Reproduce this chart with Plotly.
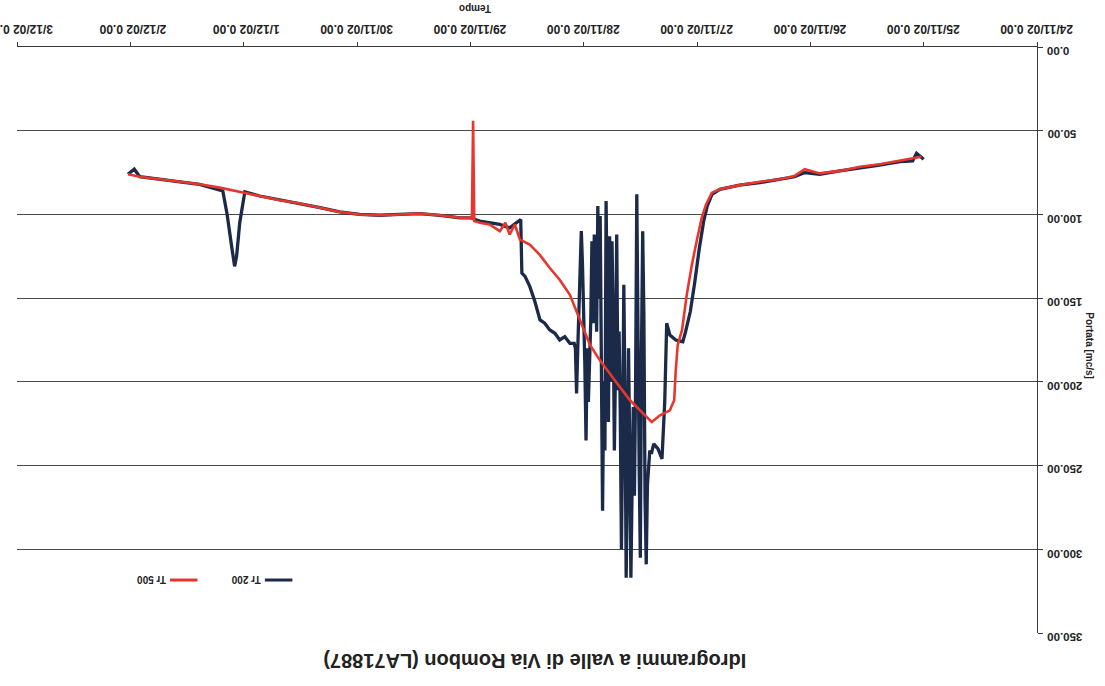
import plotly.graph_objects as go

# Tr 500 hydrograph (time, discharge in mc/s)
tr500_time = [
    "2002-11-25 00:30", "2002-11-25 05:00", "2002-11-25 09:20", "2002-11-25 13:30",
    "2002-11-25 17:45", "2002-11-25 22:00", "2002-11-26 01:10", "2002-11-26 03:20",
    "2002-11-26 06:30", "2002-11-26 10:40", "2002-11-26 15:00", "2002-11-26 19:10",
    "2002-11-26 20:50", "2002-11-26 22:05", "2002-11-26 23:00", "2002-11-27 00:00",
    "2002-11-27 01:05", "2002-11-27 02:10", "2002-11-27 03:10", "2002-11-27 04:05",
    "2002-11-27 04:30", "2002-11-27 04:50", "2002-11-27 05:45", "2002-11-27 07:50",
    "2002-11-27 09:35", "2002-11-27 11:00", "2002-11-27 14:10", "2002-11-27 17:25",
    "2002-11-27 20:35", "2002-11-27 22:40", "2002-11-28 00:50", "2002-11-28 02:55",
    "2002-11-28 05:05", "2002-11-28 07:10", "2002-11-28 09:20", "2002-11-28 11:25",
    "2002-11-28 13:30", "2002-11-28 14:35", "2002-11-28 15:40", "2002-11-28 16:35",
    "2002-11-28 17:45", "2002-11-28 19:55", "2002-11-28 22:00", "2002-11-28 23:10",
    "2002-11-28 23:25", "2002-11-28 23:40", "2002-11-29 00:00", "2002-11-29 02:10",
    "2002-11-29 06:25", "2002-11-29 10:45", "2002-11-29 15:00", "2002-11-29 19:10",
    "2002-11-29 23:25", "2002-11-30 03:40", "2002-11-30 07:50", "2002-11-30 12:05",
    "2002-11-30 16:20", "2002-11-30 20:35", "2002-12-01 00:50", "2002-12-01 05:05",
    "2002-12-01 09:20", "2002-12-01 13:30", "2002-12-01 17:45", "2002-12-01 22:00",
    "2002-12-02 00:30",
]
tr500_q = [
    65.5, 68.0, 70.0, 71.5,
    74.0, 75.5, 73.0, 77.0,
    79.0, 80.5, 82.5, 85.0,
    87.0, 94.0, 102.0, 115.0,
    130.0, 148.0, 169.0, 178.0,
    193.0, 211.0, 217.0, 220.0,
    224.0, 220.0, 211.0, 199.0,
    187.0, 178.0, 163.0, 148.0,
    139.0, 132.0, 124.0, 118.0,
    115.0, 106.0, 112.0, 105.0,
    110.0, 106.0, 105.0, 104.0,
    44.0, 103.0, 102.0, 102.0,
    100.5, 99.5, 100.0, 100.5,
    100.0, 98.5, 96.0, 93.5,
    91.5, 89.0, 86.5, 84.0,
    82.0, 80.5, 79.0, 77.5,
    76.0,
]

# Tr 200 hydrograph (time, discharge in mc/s)
tr200_time = [
    "2002-11-25 00:00", "2002-11-25 01:30", "2002-11-25 02:20", "2002-11-25 05:00",
    "2002-11-25 09:20", "2002-11-25 13:30", "2002-11-25 17:45", "2002-11-25 22:00",
    "2002-11-26 01:10", "2002-11-26 03:20", "2002-11-26 06:30", "2002-11-26 10:40",
    "2002-11-26 15:00", "2002-11-26 19:10", "2002-11-26 20:50", "2002-11-26 21:50",
    "2002-11-26 22:35", "2002-11-26 23:30", "2002-11-27 00:30", "2002-11-27 01:25",
    "2002-11-27 02:25", "2002-11-27 03:00", "2002-11-27 04:30", "2002-11-27 05:45",
    "2002-11-27 06:25", "2002-11-27 06:50", "2002-11-27 07:25", "2002-11-27 08:15",
    "2002-11-27 09:10", "2002-11-27 09:40",
    "2002-11-27 10:00", "2002-11-27 10:15", "2002-11-27 10:30", "2002-11-27 10:45",
    "2002-11-27 11:00", "2002-11-27 11:15", "2002-11-27 11:30", "2002-11-27 11:45",
    "2002-11-27 12:00", "2002-11-27 12:15", "2002-11-27 12:30", "2002-11-27 12:45",
    "2002-11-27 13:00", "2002-11-27 13:15", "2002-11-27 13:30", "2002-11-27 13:45",
    "2002-11-27 14:00", "2002-11-27 14:15", "2002-11-27 14:30", "2002-11-27 14:45",
    "2002-11-27 15:00", "2002-11-27 15:15", "2002-11-27 15:30", "2002-11-27 15:45",
    "2002-11-27 16:00", "2002-11-27 16:15", "2002-11-27 16:30", "2002-11-27 16:45",
    "2002-11-27 17:00", "2002-11-27 17:15", "2002-11-27 17:30", "2002-11-27 17:45",
    "2002-11-27 18:00", "2002-11-27 18:15", "2002-11-27 18:30", "2002-11-27 18:45",
    "2002-11-27 19:00", "2002-11-27 19:15", "2002-11-27 19:30", "2002-11-27 19:45",
    "2002-11-27 20:00", "2002-11-27 20:15", "2002-11-27 20:30", "2002-11-27 20:45",
    "2002-11-27 21:00", "2002-11-27 21:15", "2002-11-27 21:30", "2002-11-27 21:45",
    "2002-11-27 22:00", "2002-11-27 22:15", "2002-11-27 22:30", "2002-11-27 22:45",
    "2002-11-27 23:00", "2002-11-27 23:15", "2002-11-27 23:30", "2002-11-27 23:45",
    "2002-11-28 00:00", "2002-11-28 00:15", "2002-11-28 00:30", "2002-11-28 00:45",
    "2002-11-28 01:00", "2002-11-28 01:15", "2002-11-28 01:30", "2002-11-28 01:45",
    "2002-11-28 02:00", "2002-11-28 02:55", "2002-11-28 04:00",
    "2002-11-28 05:05", "2002-11-28 06:05", "2002-11-28 07:10", "2002-11-28 08:15",
    "2002-11-28 09:15", "2002-11-28 10:20", "2002-11-28 11:25", "2002-11-28 12:25",
    "2002-11-28 13:05", "2002-11-28 13:20", "2002-11-28 14:35", "2002-11-28 15:40",
    "2002-11-28 17:45", "2002-11-28 19:55", "2002-11-28 22:00", "2002-11-29 00:00",
    "2002-11-29 02:10", "2002-11-29 06:25", "2002-11-29 10:45", "2002-11-29 15:00",
    "2002-11-29 19:10", "2002-11-29 23:25", "2002-11-30 03:40", "2002-11-30 07:50",
    "2002-11-30 12:05", "2002-11-30 16:20", "2002-11-30 20:35", "2002-11-30 23:45",
    "2002-12-01 00:50", "2002-12-01 01:30", "2002-12-01 01:55", "2002-12-01 02:30",
    "2002-12-01 03:30", "2002-12-01 04:25", "2002-12-01 09:20", "2002-12-01 13:30",
    "2002-12-01 17:45", "2002-12-01 22:00", "2002-12-01 23:10", "2002-12-02 00:30",
]
tr200_q = [
    67.0, 63.5, 68.0, 68.5,
    70.5, 72.0, 74.0, 76.0,
    75.0, 77.5, 79.0, 81.0,
    82.5, 85.0, 88.0, 95.0,
    104.0, 120.0, 141.0, 158.0,
    170.0, 176.0, 175.0, 172.0,
    165.0, 212.0, 246.0, 240.0,
    237.0, 243.0,
    241.0, 250.0, 262.0, 309.0,
    270.0, 160.0, 110.0, 180.0,
    305.0, 250.0, 140.0, 88.0,
    200.0, 268.0, 215.0, 255.0,
    317.0, 240.0, 180.0, 260.0,
    317.0, 210.0, 142.0, 230.0,
    300.0, 218.0, 170.0, 205.0,
    112.0, 190.0, 241.0, 160.0,
    116.0, 200.0, 113.0, 224.0,
    150.0, 92.0, 241.0, 200.0,
    277.0, 190.0, 101.0, 150.0,
    95.0, 170.0, 135.0, 112.0,
    165.0, 116.0, 164.0, 185.0,
    212.0, 180.0, 235.0, 190.0,
    152.0, 130.0, 110.0, 140.0,
    152.0, 180.0, 207.0, 180.0,
    177.0, 177.0, 173.0,
    175.0, 171.0, 169.0, 165.0,
    163.0, 152.0, 143.0, 137.0,
    135.0, 103.0, 106.0, 108.0,
    106.0, 105.0, 104.0, 102.0,
    102.0, 100.5, 99.5, 100.0,
    100.5, 100.0, 98.5, 96.0,
    93.5, 91.5, 89.0, 86.5,
    105.0, 125.0, 131.0, 120.0,
    100.0, 86.0, 82.0, 80.5,
    79.0, 77.5, 73.0, 76.0,
]

x_ticks = ["2002-11-24", "2002-11-25", "2002-11-26", "2002-11-27", "2002-11-28",
           "2002-11-29", "2002-11-30", "2002-12-01", "2002-12-02", "2002-12-03"]
x_tick_labels = ["24/11/02 0.00", "25/11/02 0.00", "26/11/02 0.00", "27/11/02 0.00",
                 "28/11/02 0.00", "29/11/02 0.00", "30/11/02 0.00", "1/12/02 0.00",
                 "2/12/02 0.00", "3/12/02 0.00"]
y_ticks = [0, 50, 100, 150, 200, 250, 300, 350]
y_tick_labels = ["0.00", "50.00", "100.00", "150.00", "200.00", "250.00", "300.00", "350.00"]

NAVY = "#1b2a48"
RED = "#e8362d"
AXIS = "#3a3a3a"
TEXT = "#222222"
FONT = "Liberation Sans"

fig = go.Figure()
fig.add_trace(go.Scatter(x=tr200_time, y=tr200_q, mode="lines", name="Tr 200",
                         line=dict(color=NAVY, width=3.3)))
fig.add_trace(go.Scatter(x=tr500_time, y=tr500_q, mode="lines", name="Tr 500",
                         line=dict(color=RED, width=2.6)))

fig.update_layout(
    width=1105, height=686,
    margin=dict(l=17, r=68, t=47, b=53, autoexpand=False),
    paper_bgcolor="white", plot_bgcolor="white",
    showlegend=False,
    xaxis=dict(
        range=["2002-12-03", "2002-11-24"], side="top", automargin=False,
        tickvals=x_ticks, ticktext=x_tick_labels, tickangle=180,
        ticklabelshift=-36, ticklabeloverflow="allow",
        tickfont=dict(family=FONT, size=12, color=TEXT, weight="bold"),
        showgrid=False, zeroline=False,
        showline=True, linecolor=AXIS, linewidth=1,
        ticks="outside", ticklen=4, tickcolor=AXIS,
    ),
    yaxis=dict(
        range=[350, 0], side="right", automargin=False,
        tickvals=y_ticks, showticklabels=False,
        showgrid=True, gridcolor="#4a4a4a", gridwidth=1,
        zeroline=False, showline=True, linecolor=AXIS, linewidth=1,
        ticks="outside", ticklen=5, tickcolor=AXIS,
    ),
)

# Discharge tick labels, upside down and left-aligned just outside the axis
for val, lab in zip(y_ticks, y_tick_labels):
    fig.add_annotation(text=lab, xref="paper", yref="y", x=1.008, y=val,
                       xanchor="left", yanchor="middle", yshift=-4,
                       showarrow=False, textangle=180,
                       font=dict(family=FONT, size=11.5, color=TEXT, weight="bold"))

# Titles drawn upside down along with the rest of the chart
fig.add_annotation(text="<b>Idrogrammi a valle di Via Rombon (LA71887)</b>",
                   xref="paper", yref="paper", x=0.508, y=-0.049,
                   xanchor="center", yanchor="middle",
                   showarrow=False, textangle=180,
                   font=dict(family=FONT, size=20, color=TEXT))
fig.add_annotation(text="<b>Tempo</b>", xref="paper", yref="paper",
                   x=0.449, y=1.066, xanchor="center", yanchor="middle",
                   showarrow=False, textangle=180,
                   font=dict(family=FONT, size=10, color=TEXT))
fig.add_annotation(text="<b>Portata [mc/s]</b>", xref="paper", yref="paper",
                   x=1.052, y=0.491, xanchor="center", yanchor="middle",
                   showarrow=False, textangle=90,
                   font=dict(family=FONT, size=10, color=TEXT))

# Legend, rotated with the chart: sample line to the right of each label
legend_items = [("Tr 200", NAVY, 0.243), ("Tr 500", RED, 0.150)]
for label, color, xp in legend_items:
    fig.add_shape(type="line", xref="paper", yref="paper",
                  x0=xp, x1=xp + 0.027, y0=0.0904, y1=0.0904,
                  line=dict(color=color, width=3))
    fig.add_annotation(text=label, xref="paper", yref="paper",
                       x=xp - 0.002, y=0.0904, xanchor="right", yanchor="middle",
                       showarrow=False, textangle=180,
                       font=dict(family=FONT, size=10, color=TEXT, weight="bold"))

fig.write_html("out.html")
